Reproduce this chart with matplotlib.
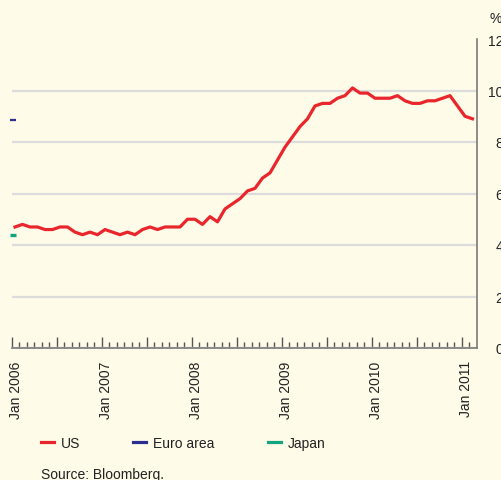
import numpy as np
import matplotlib.pyplot as plt
from matplotlib.transforms import blended_transform_factory

plt.rcParams['font.family'] = ['Liberation Sans', 'DejaVu Sans']

# US unemployment rate, monthly, Jan 2006 - Feb 2011 (%)
us = [4.7, 4.8, 4.7, 4.7, 4.6, 4.6, 4.7, 4.7, 4.5, 4.4, 4.5, 4.4,
      4.6, 4.5, 4.4, 4.5, 4.4, 4.6, 4.7, 4.6, 4.7, 4.7, 4.7, 5.0,
      5.0, 4.8, 5.1, 4.9, 5.4, 5.6, 5.8, 6.1, 6.2, 6.6, 6.8, 7.3,
      7.8, 8.2, 8.6, 8.9, 9.4, 9.5, 9.5, 9.7, 9.8, 10.1, 9.9, 9.9,
      9.7, 9.7, 9.7, 9.8, 9.6, 9.5, 9.5, 9.6, 9.6, 9.7, 9.8, 9.4,
      9.0, 8.9]
# euro area and Japan only show their first value
euro = [8.85]
japan = [4.4]
years = [2006, 2007, 2008, 2009, 2010, 2011]
yticks = [0, 2, 4, 6, 8, 10, 12]

bg = '#fefbe9'
red = '#e8262c'
blue = '#2a2f8f'
green = '#14a37f'

fig = plt.figure(figsize=(5.02, 4.81), dpi=100, facecolor=bg)
ax = fig.add_axes([12/502, 1-349/481, 465/502, 309/481], facecolor=bg)

months = np.arange(len(us)) + 0.4
ax.plot(months, us, color=red, lw=2.3, label='US', zorder=3)
ax.plot([0.1], euro, color=blue, lw=2.3, marker='_', ms=4, mew=1.6,
        ls='none', clip_on=False, zorder=3)
ax.plot([0.2], japan, color=green, lw=2.3, marker='_', ms=5, mew=2.4,
        ls='none', clip_on=False, zorder=3)
# legend handles
ax.plot([], [], color=blue, lw=2.3, label='Euro area')
ax.plot([], [], color=green, lw=2.3, label='Japan')

ax.set_xlim(0, 62)
ax.set_ylim(0, 12)

for s in ['top', 'left']:
    ax.spines[s].set_visible(False)
for s in ['bottom', 'right']:
    ax.spines[s].set_color('#7a7a7a')
    ax.spines[s].set_linewidth(1.2)

ax.yaxis.tick_right()
ax.set_yticks(yticks)
ax.set_yticklabels([str(v) for v in yticks], ha='right', fontsize=10, color='#222222')
ax.tick_params(axis='y', length=0, pad=19)
ax.grid(axis='y', color='#dcdcdc', lw=1.6)
ax.yaxis.get_gridlines()[-1].set_visible(False)
ax.set_axisbelow(True)

ax.set_xticks(np.arange(0, 62, 6))
ax.set_xticks(np.arange(0, 62, 1), minor=True)
ax.set_xticklabels([])
ax.tick_params(axis='x', which='major', direction='in', length=8, width=1, color='#555555')
ax.tick_params(axis='x', which='minor', direction='in', length=4, width=1, color='#555555')

trans = blended_transform_factory(ax.transData, ax.transAxes)
for i, yr in enumerate(years):
    ax.text(i*12 + 0.55, -0.04, 'Jan %d' % yr, transform=trans, rotation=90,
            ha='center', va='top', fontsize=10, color='#222222')

ax.text(1.04, 1.045, '%', transform=ax.transAxes, ha='center', va='bottom',
        fontsize=10, color='#222222')

fig.legend(loc='center left', bbox_to_anchor=(41/502, 1-444/481), ncol=3,
           frameon=False, fontsize=10, handlelength=0.95, handletextpad=0.5,
           columnspacing=3.8, borderpad=0, borderaxespad=0, labelcolor='#222222')

fig.text(41/502, 1-475/481, 'Source: Bloomberg.', ha='left', va='center',
         fontsize=10, color='#222222')

fig.savefig('out.png', dpi=100, facecolor=bg)
